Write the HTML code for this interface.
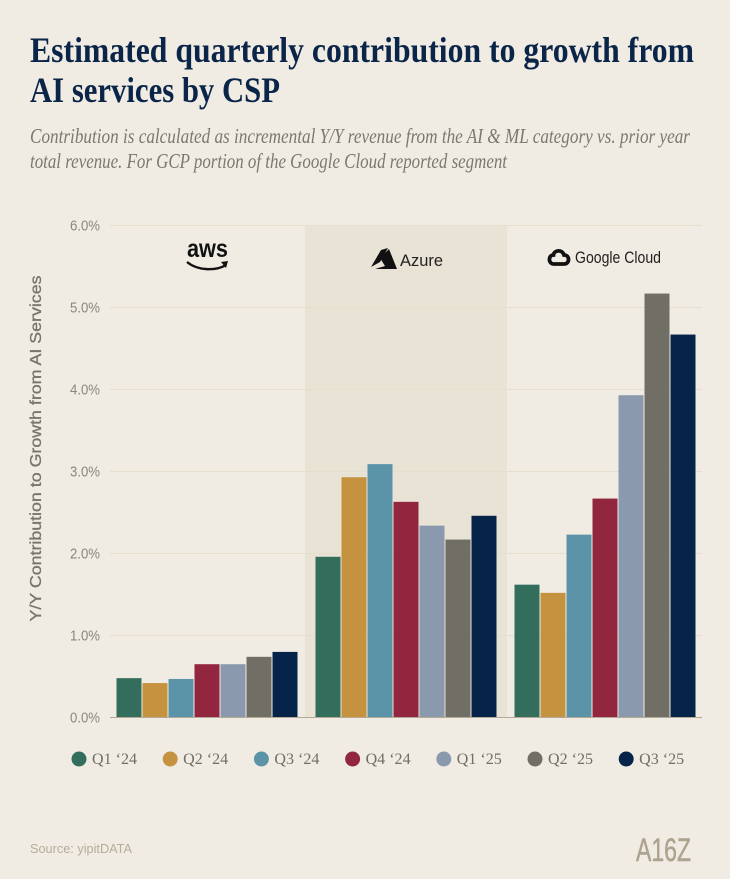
<!DOCTYPE html>
<html lang="en">
<head>
<meta charset="utf-8">
<title>Estimated quarterly contribution to growth from AI services by CSP</title>
<style>
  html, body { margin: 0; padding: 0; background: #f0ece4; }
  svg { display: block; }
  .s0 { fill: #336e5d; }
  .s1 { fill: #c59340; }
  .s2 { fill: #5b93a8; }
  .s3 { fill: #93263f; }
  .s4 { fill: #8a99ae; }
  .s5 { fill: #716e65; }
  .s6 { fill: #06234a; }
  .title { font: bold 36px "Liberation Serif", serif; fill: #0b2548; }
  .sub { font: italic 21px "Liberation Serif", serif; fill: #7b7870; }
  .tick { font: 14.5px "Liberation Sans", sans-serif; fill: #8b877d; }
  .axis-title { font: 16px "Liberation Sans", sans-serif; fill: #77746c; stroke: #77746c; stroke-width: 0.3px; }
  .legend-text { font: 15.5px "Liberation Serif", serif; fill: #716e65; }
  .source { font: 13px "Liberation Sans", sans-serif; fill: #b6ac99; }
  .mark { font: 32px "Liberation Sans", sans-serif; fill: #ada38f; stroke: #ada38f; stroke-width: 0.5px; }
</style>
</head>
<body>
<svg id="chart" xmlns="http://www.w3.org/2000/svg" width="730" height="879" viewBox="0 0 730 879">
  <rect width="730" height="879" fill="#f0ece4"/>
  <text class="title" x="30" y="62" textLength="664" lengthAdjust="spacingAndGlyphs">Estimated quarterly contribution to growth from</text>
  <text class="title" x="30" y="102" textLength="250" lengthAdjust="spacingAndGlyphs">AI services by CSP</text>
  <text class="sub" x="30" y="143" textLength="660" lengthAdjust="spacingAndGlyphs">Contribution is calculated as incremental Y/Y revenue from the AI &amp; ML category vs. prior year</text>
  <text class="sub" x="30" y="168" textLength="477" lengthAdjust="spacingAndGlyphs">total revenue. For GCP portion of the Google Cloud reported segment</text>

  <g id="band-layer"></g>
  <g id="grid-layer"></g>
  <g id="bar-layer"></g>
  <line x1="110" x2="702" y1="717.5" y2="717.5" stroke="#b3a995" stroke-width="1"/>
  <g id="tick-layer"></g>

  <text class="axis-title" transform="translate(41 448.5) rotate(-90)" text-anchor="middle" textLength="346" lengthAdjust="spacingAndGlyphs">Y/Y Contribution to Growth from AI Services</text>

  <g>
    <text x="187" y="257" textLength="41" lengthAdjust="spacingAndGlyphs" font-family="Liberation Sans, sans-serif" font-weight="bold" font-size="25" fill="#111">aws</text>
    <path d="M187 262 C198 271 216 271 226 265" fill="none" stroke="#111" stroke-width="2.4"/>
    <path d="M221 262 L228 261 L226 268 Z" fill="#111"/>
  </g>
  <g>
    <path d="M371 267 L381 250 L388 248 L380 262 Z" fill="#111"/>
    <path d="M389 249 L397 269 L375 269 L385 266 L380 258 Z" fill="#111"/>
    <text x="400" y="266" textLength="43" lengthAdjust="spacingAndGlyphs" font-family="Liberation Sans, sans-serif" font-size="17" fill="#222">Azure</text>
  </g>
  <g>
    <path d="M554 264 H564 C570 264 570 255 564 255 C562 249 554 250 553.500 255 C548 255 548 264 554 264 Z" fill="none" stroke="#111" stroke-width="3.800"/>
    <text x="575" y="263" textLength="86" lengthAdjust="spacingAndGlyphs" font-family="Liberation Sans, sans-serif" font-size="16.500" fill="#222">Google Cloud</text>
  </g>

  <g id="legend-layer"></g>

  <text class="source" x="30" y="853" textLength="102" lengthAdjust="spacingAndGlyphs">Source: yipitDATA</text>
  <text class="mark" x="636" y="861" textLength="55" lengthAdjust="spacingAndGlyphs">A16Z</text>
</svg>

<script>
const providers = ["AWS", "Azure", "Google Cloud"];
const quarters = ["Q1 ‘24", "Q2 ‘24", "Q3 ‘24", "Q4 ‘24", "Q1 ‘25", "Q2 ‘25", "Q3 ‘25"];
const awsValues = [0.48, 0.42, 0.47, 0.65, 0.65, 0.74, 0.80];
const azureValues = [1.96, 2.93, 3.09, 2.63, 2.34, 2.17, 2.46];
const googleValues = [1.62, 1.52, 2.23, 2.67, 3.93, 5.17, 4.67];
const yTicks = [0, 1, 2, 3, 4, 5, 6];

const seriesByProvider = [awsValues, azureValues, googleValues];
const highlightedProvider = "Azure";
const NS = "http://www.w3.org/2000/svg";

const plotLeft = 110, plotRight = 702, plotBase = 717.5, plotTop = 225.5;
const yMax = yTicks[yTicks.length - 1];
const groupStart = 107.5, groupStep = 199, barStep = 26, barWidth = 25;

function yScale(v) { return plotBase - (v / yMax) * (plotBase - plotTop); }
function groupCenter(g) { return groupStart + groupStep * (g + 0.5); }
function barX(g, q) { return groupCenter(g) + (q - quarters.length / 2) * barStep + 0.5; }

const bandLayer = document.getElementById("band-layer");
const gridLayer = document.getElementById("grid-layer");
const barLayer = document.getElementById("bar-layer");
const tickLayer = document.getElementById("tick-layer");
const legendLayer = document.getElementById("legend-layer");

providers.forEach(function (p, g) {
  if (p !== highlightedProvider) return;
  const band = document.createElementNS(NS, "rect");
  
  
  band.setAttribute("x", groupCenter(g) - 101);
  band.setAttribute("width", 202);
  band.setAttribute("y", yScale(yMax));
  band.setAttribute("height", plotBase - yScale(yMax));
  band.setAttribute("fill", "#e9e3d6");
  bandLayer.appendChild(band);
});

yTicks.forEach(function (t) {
  const y = yScale(t);
  if (t > 0) {
    const line = document.createElementNS(NS, "line");
    
    
    line.setAttribute("x1", plotLeft);
    line.setAttribute("x2", plotRight);
    line.setAttribute("y1", y);
    line.setAttribute("y2", y);
    line.setAttribute("stroke", "#e5dfcd");
    line.setAttribute("stroke-width", "1");
    gridLayer.appendChild(line);
  }
  const label = document.createElementNS(NS, "text");
  
  
  label.setAttribute("class", "tick");
  label.setAttribute("x", 70);
  label.setAttribute("y", y + 4.8);
  label.setAttribute("textLength", 30);
  label.setAttribute("lengthAdjust", "spacingAndGlyphs");
  label.textContent = t.toFixed(1) + "%";
  tickLayer.appendChild(label);
});

seriesByProvider.forEach(function (values, g) {
  values.forEach(function (v, q) {
    const bar = document.createElementNS(NS, "rect");
    
    
    bar.setAttribute("class", "s" + q);
    bar.setAttribute("x", barX(g, q));
    bar.setAttribute("width", barWidth);
    bar.setAttribute("y", yScale(v));
    bar.setAttribute("height", plotBase - yScale(v));
    const tip = document.createElementNS(NS, "title");
    tip.textContent = providers[g] + " " + quarters[q] + ": " + v.toFixed(2) + "%";
    bar.appendChild(tip);
    barLayer.appendChild(bar);
  });
});

quarters.forEach(function (q, i) {
  const cx = 79 + 91.2 * i;
  const dot = document.createElementNS(NS, "circle");
  
  
  dot.setAttribute("class", "s" + i);
  dot.setAttribute("cx", cx);
  dot.setAttribute("cy", 759);
  dot.setAttribute("r", 7.5);
  legendLayer.appendChild(dot);
  const label = document.createElementNS(NS, "text");
  
  
  label.setAttribute("class", "legend-text");
  label.setAttribute("x", cx + 13);
  label.setAttribute("y", 764);
  label.setAttribute("textLength", 45);
  label.setAttribute("lengthAdjust", "spacingAndGlyphs");
  label.textContent = q;
  legendLayer.appendChild(label);
});
</script>
</body>
</html>
